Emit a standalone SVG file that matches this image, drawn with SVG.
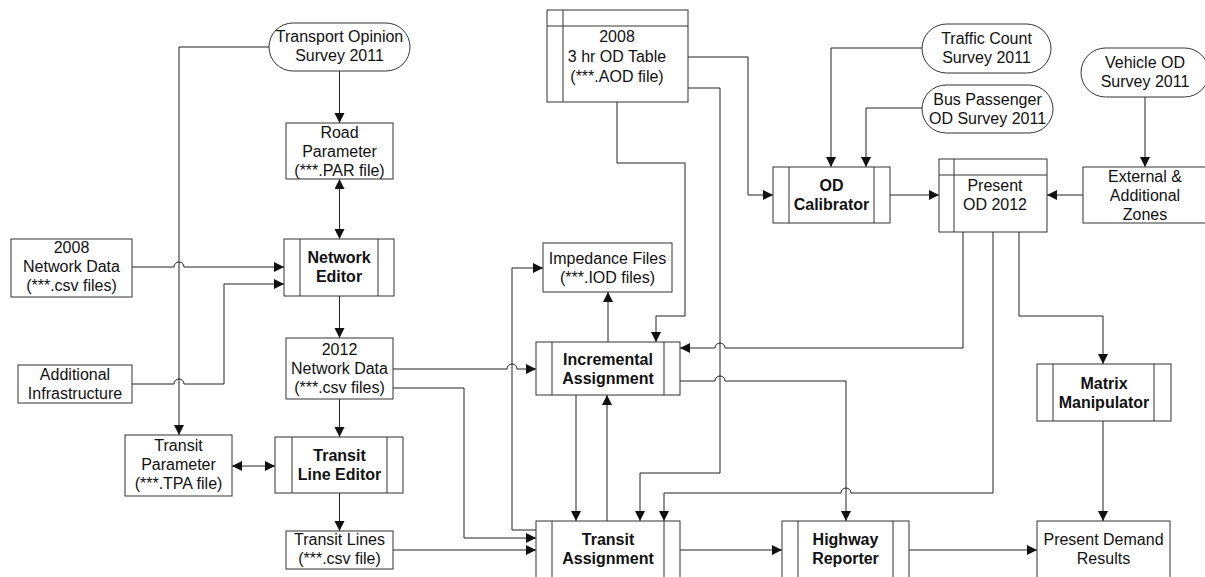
<svg xmlns="http://www.w3.org/2000/svg" width="1205" height="577" viewBox="0 0 1205 577">
<defs>
<marker id="arr" markerUnits="userSpaceOnUse" markerWidth="12" markerHeight="12" refX="10" refY="5" orient="auto-start-reverse">
<path d="M0,0 L10,5 L0,10 z" fill="#111"/>
</marker>
<style>
.b{fill:#fff;stroke:#333;stroke-width:1}
.l{fill:none;stroke:#333;stroke-width:1}
.c{fill:none;stroke:#222;stroke-width:1}
.t{font-family:"Liberation Sans",Arial,sans-serif;font-size:16px;fill:#111;text-anchor:middle}
.tb{font-family:"Liberation Sans",Arial,sans-serif;font-size:16px;font-weight:bold;fill:#111;text-anchor:middle}
</style>
</defs>
<rect width="1205" height="577" fill="#fff"/>

<g id="connectors">
<path class="c" d="M339.5 71 V123" marker-end="url(#arr)"/>
<path class="c" d="M339.5 179 V239" marker-start="url(#arr)" marker-end="url(#arr)"/>
<path class="c" d="M269 47 H179 V435" marker-end="url(#arr)"/>
<path class="c" d="M132 267 H174 A5 5 0 0 1 184 267 H284" marker-end="url(#arr)"/>
<path class="c" d="M132 384 H174 A5 5 0 0 1 184 384 H224 V284 H284" marker-end="url(#arr)"/>
<path class="c" d="M339.5 296 V338" marker-end="url(#arr)"/>
<path class="c" d="M339.5 399 V437" marker-end="url(#arr)"/>
<path class="c" d="M232 466 H275" marker-start="url(#arr)" marker-end="url(#arr)"/>
<path class="c" d="M339.5 493 V531" marker-end="url(#arr)"/>
<path class="c" d="M393 369 H507 A5 5 0 0 1 517 369 H536" marker-end="url(#arr)"/>
<path class="c" d="M393 388 H464 V538 H536" marker-end="url(#arr)"/>
<path class="c" d="M393 550 H536" marker-end="url(#arr)"/>
<path class="c" d="M536 530 H512 V268 H543" marker-end="url(#arr)"/>
<path class="c" d="M608 342 V292" marker-end="url(#arr)"/>
<path class="c" d="M576 395 V521" marker-end="url(#arr)"/>
<path class="c" d="M607 521 V395" marker-end="url(#arr)"/>
<path class="c" d="M617 102 V163 H685 V316 H656 V342" marker-end="url(#arr)"/>
<path class="c" d="M688 88 H720 V473 H640 V521" marker-end="url(#arr)"/>
<path class="c" d="M688 57 H748 V195 H773" marker-end="url(#arr)"/>
<path class="c" d="M922 48 H831 V167" marker-end="url(#arr)"/>
<path class="c" d="M922 108 H866 V167" marker-end="url(#arr)"/>
<path class="c" d="M890 195 H939" marker-end="url(#arr)"/>
<path class="c" d="M1083 195 H1047" marker-end="url(#arr)"/>
<path class="c" d="M1145 97 V167" marker-end="url(#arr)"/>
<path class="c" d="M963 232 V348 H725 A5 5 0 0 0 715 348 H680" marker-end="url(#arr)"/>
<path class="c" d="M680 381 H715 A5 5 0 0 1 725 381 H846 V521" marker-end="url(#arr)"/>
<path class="c" d="M993 232 V493 H851 A5 5 0 0 0 841 493 H664 V521" marker-end="url(#arr)"/>
<path class="c" d="M1019 232 V316 H1103 V364" marker-end="url(#arr)"/>
<path class="c" d="M1103 421 V521" marker-end="url(#arr)"/>
<path class="c" d="M680 550 H782" marker-end="url(#arr)"/>
<path class="c" d="M909 550 H1037" marker-end="url(#arr)"/>
</g>

<g id="transport-opinion-survey">
<rect class="b" x="269" y="23" width="141" height="48" rx="24" ry="24"/>
<text class="t" x="339.5" y="42">Transport Opinion</text>
<text class="t" x="339.5" y="61">Survey 2011</text>
</g>
<g id="traffic-count-survey">
<rect class="b" x="922" y="24" width="129" height="49" rx="24.5" ry="24.5"/>
<text class="t" x="986.5" y="44">Traffic Count</text>
<text class="t" x="986.5" y="63">Survey 2011</text>
</g>
<g id="bus-passenger-survey">
<rect class="b" x="922" y="85" width="131" height="48" rx="24" ry="24"/>
<text class="t" x="987.5" y="105">Bus Passenger</text>
<text class="t" x="987.5" y="124">OD Survey 2011</text>
</g>
<g id="vehicle-od-survey">
<rect class="b" x="1081" y="48" width="128" height="49" rx="24.5" ry="24.5"/>
<text class="t" x="1145" y="68">Vehicle OD</text>
<text class="t" x="1145" y="87">Survey 2011</text>
</g>

<g id="road-parameter">
<rect class="b" x="286" y="123" width="107" height="56"/>
<text class="t" x="339.5" y="138">Road</text>
<text class="t" x="339.5" y="157">Parameter</text>
<text class="t" x="339.5" y="176">(***.PAR file)</text>
</g>
<g id="network-data-2008">
<rect class="b" x="11" y="239" width="121" height="58"/>
<text class="t" x="71.5" y="253">2008</text>
<text class="t" x="71.5" y="272">Network Data</text>
<text class="t" x="71.5" y="291">(***.csv files)</text>
</g>
<g id="additional-infrastructure">
<rect class="b" x="18" y="365" width="114" height="38"/>
<text class="t" x="75" y="380">Additional</text>
<text class="t" x="75" y="399">Infrastructure</text>
</g>
<g id="network-editor">
<rect class="b" x="284" y="239" width="110" height="57"/>
<path class="l" d="M300 239 V296 M378 239 V296"/>
<text class="tb" x="339" y="263">Network</text>
<text class="tb" x="339" y="282">Editor</text>
</g>
<g id="network-data-2012">
<rect class="b" x="286" y="338" width="107" height="61"/>
<text class="t" x="339.5" y="355">2012</text>
<text class="t" x="339.5" y="374">Network Data</text>
<text class="t" x="339.5" y="393">(***.csv files)</text>
</g>
<g id="transit-parameter">
<rect class="b" x="125" y="435" width="107" height="61"/>
<text class="t" x="178.5" y="451">Transit</text>
<text class="t" x="178.5" y="470">Parameter</text>
<text class="t" x="178.5" y="489">(***.TPA file)</text>
</g>
<g id="transit-line-editor">
<rect class="b" x="275" y="437" width="128" height="56"/>
<path class="l" d="M292 437 V493 M387 437 V493"/>
<text class="tb" x="339.5" y="461">Transit</text>
<text class="tb" x="339.5" y="480">Line Editor</text>
</g>
<g id="transit-lines">
<rect class="b" x="286" y="531" width="107" height="38"/>
<text class="t" x="339.5" y="545">Transit Lines</text>
<text class="t" x="339.5" y="564">(***.csv file)</text>
</g>
<g id="od-table-2008">
<rect class="b" x="547" y="10" width="141" height="92"/>
<path class="l" d="M547 26 H688 M563 10 V102"/>
<text class="t" x="617" y="42">2008</text>
<text class="t" x="617" y="62">3 hr OD Table</text>
<text class="t" x="617" y="82">(***.AOD file)</text>
</g>
<g id="impedance-files">
<rect class="b" x="543" y="243" width="129" height="49"/>
<text class="t" x="607.5" y="264">Impedance Files</text>
<text class="t" x="607.5" y="283">(***.IOD files)</text>
</g>
<g id="incremental-assignment">
<rect class="b" x="536" y="342" width="144" height="53"/>
<path class="l" d="M552 342 V395 M664 342 V395"/>
<text class="tb" x="608" y="365">Incremental</text>
<text class="tb" x="608" y="384">Assignment</text>
</g>
<g id="transit-assignment">
<rect class="b" x="536" y="521" width="144" height="70"/>
<path class="l" d="M552 521 V591 M664 521 V591"/>
<text class="tb" x="608" y="545">Transit</text>
<text class="tb" x="608" y="564">Assignment</text>
</g>
<g id="od-calibrator">
<rect class="b" x="773" y="167" width="117" height="56"/>
<path class="l" d="M789 167 V223 M874 167 V223"/>
<text class="tb" x="831.5" y="191">OD</text>
<text class="tb" x="831.5" y="210">Calibrator</text>
</g>
<g id="present-od-2012">
<rect class="b" x="939" y="159" width="108" height="73"/>
<path class="l" d="M939 175 H1047 M954 159 V232"/>
<text class="t" x="995" y="191">Present</text>
<text class="t" x="995" y="210">OD 2012</text>
</g>
<g id="external-additional-zones">
<rect class="b" x="1083" y="167" width="124" height="56"/>
<text class="t" x="1145" y="182">External &amp;</text>
<text class="t" x="1145" y="201">Additional</text>
<text class="t" x="1145" y="220">Zones</text>
</g>
<g id="highway-reporter">
<rect class="b" x="782" y="521" width="127" height="70"/>
<path class="l" d="M798 521 V591 M893 521 V591"/>
<text class="tb" x="845.5" y="545">Highway</text>
<text class="tb" x="845.5" y="564">Reporter</text>
</g>
<g id="matrix-manipulator">
<rect class="b" x="1037" y="364" width="134" height="57"/>
<path class="l" d="M1053 364 V421 M1154 364 V421"/>
<text class="tb" x="1104" y="389">Matrix</text>
<text class="tb" x="1104" y="408">Manipulator</text>
</g>
<g id="present-demand-results">
<rect class="b" x="1037" y="521" width="133" height="70"/>
<text class="t" x="1103.5" y="545">Present Demand</text>
<text class="t" x="1103.5" y="564">Results</text>
</g>
</svg>
